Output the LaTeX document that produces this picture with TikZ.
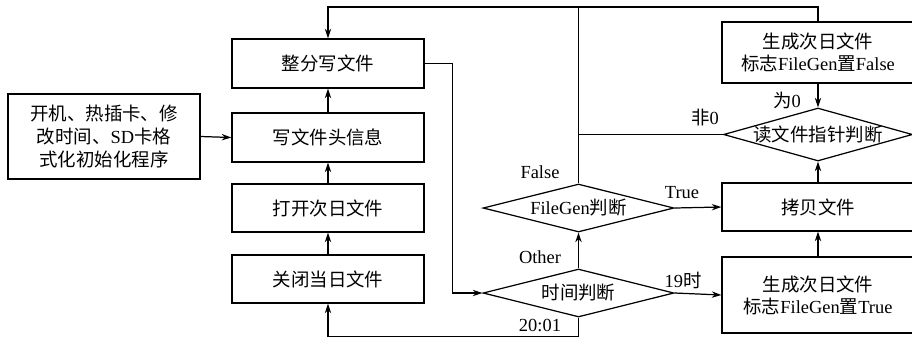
\documentclass[tikz,border=0pt]{standalone}
\usepackage{fontspec}
\setmainfont{Liberation Serif}
\newfontfamily\cjk{Noto Sans CJK SC}
\usetikzlibrary{arrows.meta,shapes.geometric}
\newcommand{\zh}[1]{{\cjk #1}}
\tikzset{
  every node/.style={font=\fontsize{10.5}{12.5}\selectfont},
  box/.style={draw, line width=0.7pt, inner sep=0pt, minimum width=3.84cm, align=center},
  dia/.style={draw, diamond, line width=0.7pt, inner sep=0pt, minimum width=3.82cm},
  conn/.style={line width=0.7pt},
  arr/.style={conn, -{Stealth[length=5.5pt,width=3.6pt]}},
  lbl/.style={inner sep=0pt}
}
\begin{document}
\begin{tikzpicture}[x=0.02cm,y=-0.02cm]
\useasboundingbox (0,0) rectangle (912,339);
\clip (0,0) rectangle (912,339);
% left column
\node[box, minimum height=0.98cm] (b1) at (328,63.5) {\zh{整分写文件}};
\node[box, minimum height=0.98cm] (b2) at (328,137.5) {\zh{写文件头信息}};
\node[box, minimum height=0.96cm] (b3) at (328,208) {\zh{打开次日文件}};
\node[box, minimum height=0.96cm] (b4) at (328,279) {\zh{关闭当日文件}};
\node[box, minimum height=1.7cm, font=\fontsize{10.5}{13}\selectfont] (init) at (104,136.5)
  {\zh{开机、热插卡、修}\\\zh{改时间、}SD\zh{卡格}\\\zh{式化初始化程序}};
% middle diamonds
\node[dia, minimum height=0.96cm, label=center:{\zh{时间判断}}] (d1) at (578.5,293) {};
\node[dia, minimum height=0.96cm, label=center:{FileGen\zh{判断}}] (d2) at (578.5,208) {};
% right column
\node[box, minimum height=1.22cm] (r1) at (818,52.5) {\zh{生成次日文件}\\\zh{标志}FileGen\zh{置}False};
\node[dia, minimum height=1.06cm, minimum width=3.78cm, label=center:{\zh{读文件指针判断}}] (d3) at (818,134.5) {};
\node[box, minimum height=0.96cm] (r2) at (818,207) {\zh{拷贝文件}};
\node[box, minimum height=1.52cm] (r3) at (818,295) {\zh{生成次日文件}\\\zh{标志}FileGen\zh{置}True};
\coordinate (top) at (0,7);
% connectors
\draw[arr] (init.east) -- (b2.west);
\draw[arr] (b2.north) -- (b1.south);
\draw[arr] (b3.north) -- (b2.south);
\draw[arr] (b4.north) -- (b3.south);
\draw[arr] (b1.east) -- ++(28,0) |- (d1.west);
\draw[arr] (d1.south) -- ++(0,19) -| (b4.south);
\draw[arr] (d1.north) -- (d2.south);
\draw[arr] (d1.east) -- (r3.west);
\draw[arr] (d2.east) -- (r2.west);
\draw[arr] (r3.north) -- (r2.south);
\draw[arr] (r2.north) -- (d3.south);
\draw[arr] (r1.south) -- (d3.north);
\draw[conn] (d3.west) -- (d2.north |- d3.west);
\draw[conn] (d2.north) -- (d2.north |- top);
\draw[arr] (r1.north) -- (r1.north |- top) -| (b1.north);
% labels
\node[lbl] (l2001) at (540,325) {20:01};
\node[lbl] (lother) at (540,257) {Other};
\node[lbl] (l19) at (683,280) {19\zh{时}};
\node[lbl] (ltrue) at (682,193) {True};
\node[lbl] (lfalse) at (540,172) {False};
\node[lbl] (lnon) at (705,118) {\zh{非}0};
\node[lbl] (lzero) at (787,100) {\zh{为}0};
\end{tikzpicture}
\end{document}
